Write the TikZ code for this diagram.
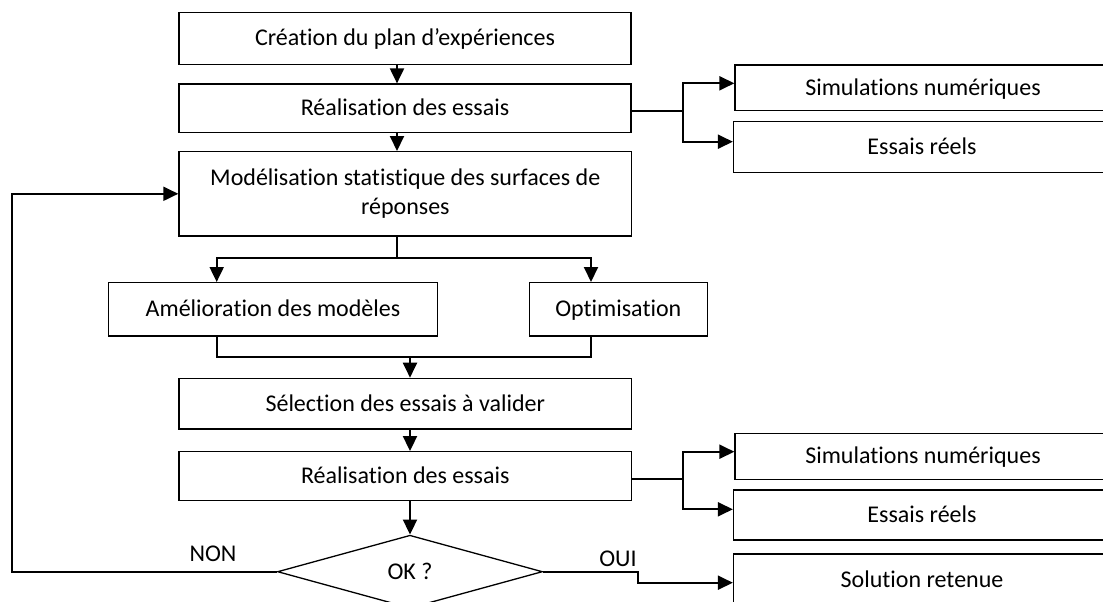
\documentclass[tikz,border=0pt]{standalone}
\usepackage{fontspec}
\setmainfont[Ligatures={NoCommon}]{Carlito}
\usetikzlibrary{arrows.meta,shapes.geometric}

\tikzset{
  etape/.style={draw, line width=1.3pt, inner sep=0pt, align=center,
    text height=17pt, text depth=2pt, font=\fontsize{24}{28.5}\selectfont},
  etape2/.style={draw, line width=1.3pt, inner sep=0pt, align=center,
    font=\fontsize{24}{28.5}\selectfont},
  lien/.style={line width=2pt},
  fleche/.style={lien, -{Triangle[length=15pt,width=14pt]}},
  test/.style={diamond, draw, line width=1.3pt, inner sep=0pt, text height=17pt, text depth=2pt,
    minimum width=265pt, minimum height=73pt, font=\fontsize{24}{28.5}\selectfont},
  etiq/.style={font=\fontsize{24}{28.5}\selectfont, inner sep=0pt}
}

\begin{document}
\begin{tikzpicture}[x=1pt,y=-1pt]
        \useasboundingbox (0,0) rectangle (1103,602);
        \clip (0,0) rectangle (1103,602);

        % Kästen links
        \node[etape, minimum width=452pt, minimum height=51.6pt] (plan) at (405,38.5) {Création du plan d’expériences};
        \node[etape, minimum width=452pt, minimum height=48.3pt] (essais) at (405,108.2) {Réalisation des essais};
        \node[etape2, minimum width=452.7pt, minimum height=84.3pt] (modele) at (405.3,193.8) {Modélisation statistique des surfaces de\\réponses};
        \node[etape, minimum width=329.4pt, minimum height=53.3pt] (amelio) at (273,309.3) {Amélioration des modèles};
        \node[etape, minimum width=178pt, minimum height=53.3pt] (optim) at (618.3,309.3) {Optimisation};
        \node[etape, minimum width=452.7pt, minimum height=50.7pt] (select) at (405.3,403.7) {Sélection des essais à valider};
        \node[etape, minimum width=452.7pt, minimum height=49pt] (essaisB) at (405.3,476.2) {Réalisation des essais};
        \node[test] (ok) at (410,571.7) {OK ?};

        % Kästen rechts
        \node[etape, minimum width=376pt, minimum height=45.7pt] (simA) at (923,87.8) {Simulations numériques};
        \node[etape, minimum width=377pt, minimum height=51pt] (reelA) at (922,147.2) {Essais réels};
        \node[etape, minimum width=376pt, minimum height=46pt] (simB) at (923,456.3) {Simulations numériques};
        \node[etape, minimum width=377pt, minimum height=50pt] (reelB) at (922,515) {Essais réels};
        \node[etape, minimum width=377pt, minimum height=52pt] (sol) at (922,580) {Solution retenue};

        % Hilfspunkte
        \coordinate (upX) at (397,0);
        \coordinate (lowX) at (410,0);
        \coordinate (split) at (397,258.3);
        \coordinate (amelX) at (216.7,0);
        \coordinate (optX) at (591,0);
        \coordinate (join) at (410,356.7);
        \coordinate (forkA) at (683,111);
        \coordinate (forkAup) at (683,83.3);
        \coordinate (forkAlo) at (683,141.7);
        \coordinate (forkB) at (683,479.3);
        \coordinate (forkBup) at (683,451.7);
        \coordinate (forkBlo) at (683,509.3);
        \coordinate (stufe) at (638.3,582.7);
        \coordinate (loop) at (11.7,571.7);

        % Hauptkette
        \draw[fleche] (plan.south -| upX) -- (essais.north -| upX);
        \draw[fleche] (essais.south -| upX) -- (modele.north -| upX);
        \draw[lien] (modele.south -| upX) -- (split);
        \draw[fleche] (split) -| (amelio.north -| amelX);
        \draw[fleche] (split) -| (optim.north -| optX);
        \draw[lien] (amelio.south -| amelX) |- (join);
        \draw[lien] (optim.south -| optX) |- (join);
        \draw[fleche] (join) -- (select.north -| lowX);
        \draw[fleche] (select.south -| lowX) -- (essaisB.north -| lowX);
        \draw[fleche] (essaisB.south -| lowX) -- (ok.north);

        % Verzweigungen nach rechts
        \draw[lien] (essais.east |- forkA) -- (forkA);
        \draw[fleche] (forkA) -- (forkAup) -- (simA.west |- forkAup);
        \draw[fleche] (forkA) -- (forkAlo) -- (reelA.west |- forkAlo);
        \draw[lien] (essaisB.east |- forkB) -- (forkB);
        \draw[fleche] (forkB) -- (forkBup) -- (simB.west |- forkBup);
        \draw[fleche] (forkB) -- (forkBlo) -- (reelB.west |- forkBlo);

        % Entscheidung
        \draw[fleche] (ok.east) -| (stufe) -- (sol.west |- stufe);
        \draw[fleche] (ok.west) -- (loop) |- (modele.west);
        \node[etiq] (non) at (213,554) {NON};
        \node[etiq] (oui) at (618,559) {OUI};
    \end{tikzpicture}
\end{document}
